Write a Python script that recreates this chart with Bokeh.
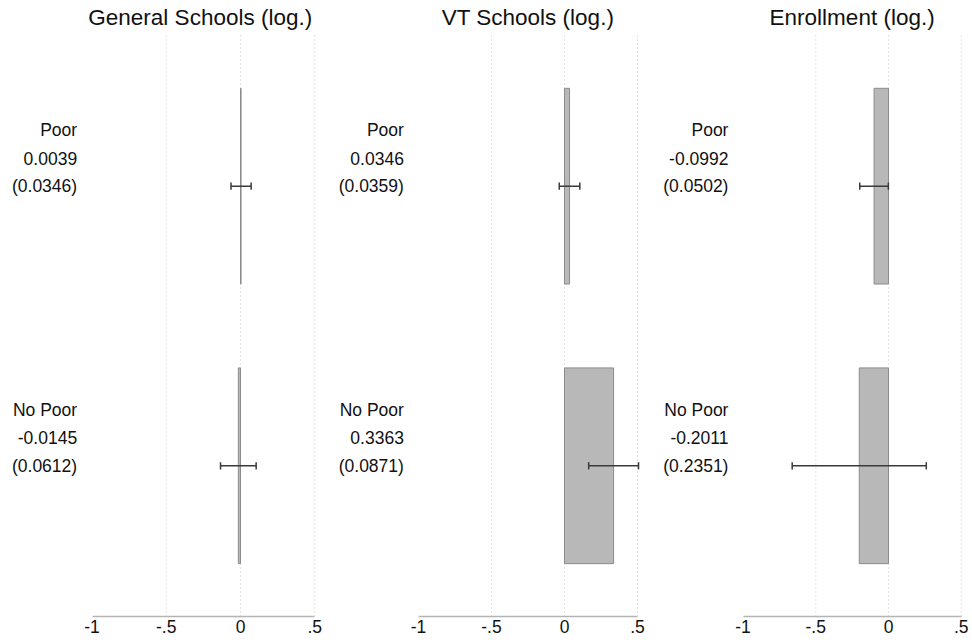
from bokeh.plotting import figure
from bokeh.layouts import row
from bokeh.models import FixedTicker, ColumnDataSource, Range1d
from bokeh.core.properties import value
from bokeh.embed import file_html
from bokeh.resources import INLINE

# ---- data ----
titles = ["General  Schools (log.)", "VT Schools (log.)", "Enrollment (log.)"]
groups = ["Poor", "No Poor"]
coef_general = [0.0039, -0.0145]
se_general = [0.0346, 0.0612]
coef_vt = [0.0346, 0.3363]
se_vt = [0.0359, 0.0871]
coef_enroll = [-0.0992, -0.2011]
se_enroll = [0.0502, 0.2351]
tick_values = [-1, -0.5, 0, 0.5]
tick_labels = ["-1", "-.5", "0", ".5"]
grid_values = [-0.5, 0, 0.5]

panels = [(coef_general, se_general), (coef_vt, se_vt), (coef_enroll, se_enroll)]

FONT = "Liberation Sans"
# layout: (figure width, px of zero from left, px per unit)
geom = [(326, 240, 148.5), (324, 238, 146.0), (322, 238, 145.5)]
FIG_H = 640
BOTTOM = 24
Y_START = -0.539
Y_END = 1.664
GRID_TOP = 1.543

ypos = [len(groups) - 1 - i for i in range(len(groups))]

figs = []
for k, (coefs, ses) in enumerate(panels):
    w, zero, scale = geom[k]
    p = figure(width=w, height=FIG_H, output_backend="svg", toolbar_location=None,
               x_range=Range1d(-zero / scale, (w - zero) / scale),
               y_range=Range1d(Y_START, Y_END),
               min_border_left=0, min_border_right=0, min_border_top=0,
               min_border_bottom=BOTTOM)
    p.outline_line_color = None
    p.background_fill_color = "white"
    p.border_fill_color = "white"
    p.xgrid.visible = False
    p.ygrid.visible = False
    p.yaxis.visible = False

    # dotted vertical gridlines
    p.segment(x0=grid_values, y0=[Y_START] * len(grid_values),
              x1=grid_values, y1=[GRID_TOP] * len(grid_values),
              line_color="#c8c8c8", line_width=1, line_dash="1 3")

    # bars
    src = ColumnDataSource(dict(
        y=ypos, coef=coefs,
        lo=[c - 1.96 * s for c, s in zip(coefs, ses)],
        hi=[c + 1.96 * s for c, s in zip(coefs, ses)],
    ))
    p.hbar(y="y", left=0, right="coef", height=0.70, source=src,
           fill_color="#b8b8b8", line_color="#8c8c8c", line_width=1)

    # CI bars
    p.segment(x0="lo", y0="y", x1="hi", y1="y", source=src,
              line_color="#3a3a3a", line_width=1.5)
    cap = 0.013
    lo = [c - 1.96 * s for c, s in zip(coefs, ses)]
    hi = [c + 1.96 * s for c, s in zip(coefs, ses)]
    p.segment(x0=lo + hi, y0=[y - cap for y in ypos] * 2,
              x1=lo + hi, y1=[y + cap for y in ypos] * 2,
              line_color="#3a3a3a", line_width=1.5)

    # left labels
    lx, ly, lt = [], [], []
    for g, y, c, s in zip(groups, ypos, coefs, ses):
        for off, t in ((0.2, g), (0.1, f"{c:.4f}"), (0.0, f"({s:.4f})")):
            lx.append(-1.1)
            ly.append(y + off)
            lt.append(t)
    p.text(x=lx, y=ly, text=lt, text_align="right", text_baseline="middle",
           text_font=value(FONT), text_font_size="17.5px", text_color="#111111")

    # title
    p.text(x=[-0.25], y=[1.604], text=[titles[k]], text_align="center",
           text_baseline="middle", text_font=value(FONT), text_font_size="22.5px",
           text_color="#111111")

    ax = p.xaxis[0]
    ax.ticker = FixedTicker(ticks=tick_values)
    ax.major_label_overrides = {v: l for v, l in zip(tick_values, tick_labels)}
    ax.bounds = (-1, 0.5)
    ax.axis_line_color = "#b4b4b4"
    ax.axis_line_width = 1.5
    ax.major_tick_line_color = None
    ax.minor_tick_line_color = None
    ax.major_tick_out = 0
    ax.major_tick_in = 0
    ax.major_label_standoff = 3
    ax.major_label_text_font = FONT
    ax.major_label_text_font_size = "17.5px"
    ax.major_label_text_color = "#111111"
    figs.append(p)

layout = row(*figs, spacing=0)
open("out.html", "w").write(file_html(layout, INLINE))
